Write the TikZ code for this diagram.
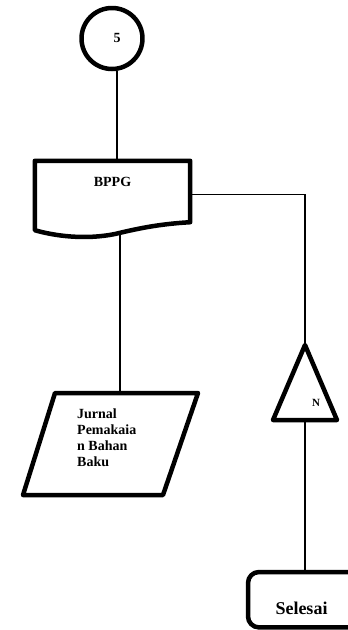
\documentclass[tikz,border=0pt]{standalone}
\usepackage{fontspec}
\setmainfont{Liberation Serif}
\usetikzlibrary{positioning,calc}

\tikzset{
  tebal/.style={line width=4.5pt, line join=round},
  garis/.style={line width=1.4pt},
  teks/.style={font=\bfseries\fontsize{14}{16}\selectfont},
}

\begin{document}
\begin{tikzpicture}[x=1pt,y=-1pt]
    \useasboundingbox (0,0) rectangle (348,630);
    \clip (0,0) rectangle (348,630);

    % posisi bentuk
    \node[minimum width=155pt, minimum height=67pt, inner sep=0pt] (dokumen) at (112.5,194.5) {};
    \coordinate (jurnalatas) at (120,393);
    \coordinate (puncak) at (305,345);
    \coordinate (alas) at (305,420);
    \node[minimum width=132pt, minimum height=55pt, inner sep=0pt, anchor=north west] (selesai) at (248,572) {};

    % garis penghubung
    \draw[garis] (dokumen.east) -| (puncak);
    \draw[garis] ([xshift=7.5pt]dokumen.south) -- (jurnalatas);
    \draw[garis] (alas) -- (alas |- selesai.north);

    % konektor 5
    \node[circle, draw, tebal, fill=white, minimum size=61pt, inner sep=0pt] (konektor) at (112,38.5) {};
    \node[teks] (angka) at (117,38) {5};
    \draw[garis] (angka |- konektor.south) -- (angka |- dokumen.north);

    % dokumen BPPG
    \draw[tebal, fill=white] (dokumen.north west) -- (dokumen.north east) -- ($(dokumen.south east)+(0,-6)$)
        .. controls (160,224) and (140,228) .. (115,234)
        .. controls (85,240) and (55,236) .. ($(dokumen.south west)+(0,2)$) -- cycle;
    \node[teks, below=13pt of dokumen.north] (bppg) {BPPG};

    % jurnal
    \draw[tebal, fill=white] (55,393) -- (198,393) -- (163,495) -- (23,495) -- cycle;
    \node[teks, align=left, anchor=west, inner sep=0pt] (jurnal) at (77,438) {Jurnal\\Pemakaia\\n Bahan\\Baku};

    % arsip N
    \draw[tebal, fill=white] (puncak) -- (337,420) -- (273,420) -- cycle;
    \node[font=\bfseries\fontsize{11}{13}\selectfont] (arsip) at (316,403) {N};

    % selesai
    \draw[tebal, fill=white, rounded corners=11pt] (selesai.north west) rectangle (selesai.south east);
    \node[font=\bfseries\fontsize{18}{21}\selectfont] (teksselesai) at (301.5,608) {Selesai};
\end{tikzpicture}
\end{document}
